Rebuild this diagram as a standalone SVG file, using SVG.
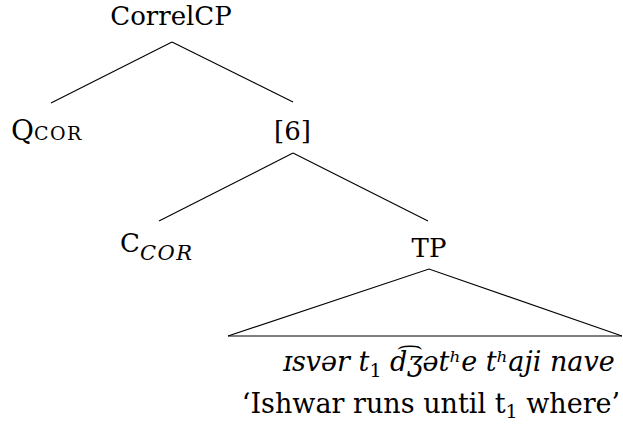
<svg xmlns="http://www.w3.org/2000/svg" width="623" height="434" viewBox="0 0 623 434">
<style>
text{font-family:'DejaVu Serif',serif;fill:#000}
.lbl{font-size:26px}
.big{font-size:27px}
.mid{text-anchor:middle}
.sc{font-size:19px;letter-spacing:1.5px}
.sub{font-size:21px;font-style:italic;letter-spacing:1.5px}
.ipa{font-size:27px;font-style:italic;text-anchor:middle}
.edge{stroke:#000;stroke-width:1.1;fill:none}
</style>
<rect width="623" height="434" fill="#fff"/>
<g id="connectors">
<line class="edge" x1="172" y1="42" x2="51" y2="103"/>
<line class="edge" x1="172" y1="42" x2="293" y2="102"/>
<line class="edge" x1="293" y1="153" x2="159" y2="221"/>
<line class="edge" x1="293" y1="153" x2="428" y2="221"/>
<polyline class="edge" points="228,336 429,269 622,336"/>
<line x1="228" y1="336" x2="622" y2="336" stroke="#000" stroke-width="1"/>
</g>
<g id="node-correlcp"><text class="lbl mid" x="171" y="25">CorrelCP</text></g>
<g id="node-qcor"><text class="lbl" x="11" y="140"><tspan font-size="28">Q</tspan><tspan class="sc">COR</tspan></text></g>
<g id="node-6"><text class="lbl mid" x="292.5" y="140">[6]</text></g>
<g id="node-ccor"><text class="lbl" x="120" y="252">C<tspan class="sub" dy="8">COR</tspan></text></g>
<g id="node-tp"><text class="lbl mid" x="429" y="257">TP</text></g>
<g id="node-terminal">
<text class="ipa" x="449" y="371">ɪsvər t<tspan font-style="normal" font-size="19" dy="6">1</tspan><tspan dy="-6"> d͡ʒətʰe tʰaji nave</tspan></text>
<text class="big mid" x="431" y="413">‘Ishwar runs until t<tspan font-size="19" dy="5">1</tspan><tspan dy="-5"> where’</tspan></text>
</g>
</svg>
